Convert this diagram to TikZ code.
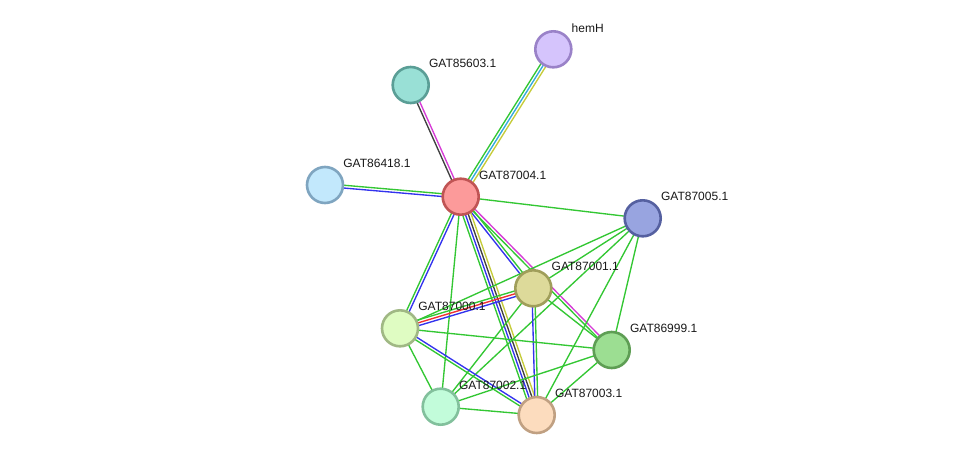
\documentclass[tikz,border=0pt]{standalone}
\usepackage{fontspec}
\setmainfont{Liberation Sans}
\usetikzlibrary{calc,backgrounds}
\definecolor{eg}{HTML}{33C733}
\definecolor{eb}{HTML}{3333EE}
\definecolor{em}{HTML}{D63BD6}
\definecolor{ek}{HTML}{404040}
\definecolor{ey}{HTML}{C6CC3A}
\definecolor{ec}{HTML}{33AADD}
\definecolor{er}{HTML}{F03030}
\newcommand{\medge}[3]{%
  \gdef\mycnt{0}%
  \foreach \ec in {#3}{\xdef\mycnt{\the\numexpr\mycnt+1\relax}}%
  \foreach \ec [count=\ei] in {#3}{%
    \pgfmathsetmacro{\myoff}{(\ei-(\mycnt+1)/2)*2.8}%
    \draw[edge,draw=\ec] ($(#1.center)!\myoff pt!90:(#2.center)$) -- ($(#2.center)!\myoff pt!-90:(#1.center)$);}%
}
\begin{document}
\begin{tikzpicture}[x=1pt,y=-1pt,
  prot/.style={circle, draw, line width=2.6pt, minimum size=36pt, inner sep=0pt},
  edge/.style={line width=1.35pt},
  lab/.style={anchor=west, font=\fontsize{12}{14}\selectfont, inner sep=0pt, text=black!90}]
\useasboundingbox (0,0) rectangle (975,461);
% proteins
\node[prot, fill={rgb,255:red,213;green,196;blue,252}, draw={rgb,255:red,154;green,130;blue,200}] (hemH) at (553.3,49.3) {};
\node[prot, fill={rgb,255:red,153;green,224;blue,214}, draw={rgb,255:red,90;green,158;blue,150}] (n5603) at (410.7,85) {};
\node[prot, fill={rgb,255:red,194;green,232;blue,252}, draw={rgb,255:red,127;green,165;blue,192}] (n6418) at (325,185) {};
\node[prot, fill={rgb,255:red,252;green,154;blue,154}, draw={rgb,255:red,192;green,84;blue,84}] (n4) at (460.7,196.7) {};
\node[prot, fill={rgb,255:red,152;green,164;blue,224}, draw={rgb,255:red,85;green,96;blue,160}] (n5) at (642.7,218.3) {};
\node[prot, fill={rgb,255:red,221;green,218;blue,154}, draw={rgb,255:red,160;green,158;blue,90}] (n1) at (533.3,288.3) {};
\node[prot, fill={rgb,255:red,223;green,252;blue,194}, draw={rgb,255:red,160;green,184;blue,132}] (n0) at (400,328.3) {};
\node[prot, fill={rgb,255:red,156;green,222;blue,146}, draw={rgb,255:red,94;green,158;blue,84}] (n6999) at (611.7,350) {};
\node[prot, fill={rgb,255:red,194;green,252;blue,218}, draw={rgb,255:red,130;green,192;blue,156}] (n2) at (440.7,406.7) {};
\node[prot, fill={rgb,255:red,252;green,220;blue,190}, draw={rgb,255:red,192;green,160;blue,130}] (n3) at (536.7,415) {};
% labels
\node[lab] (lhemH) at (571.5,28.3) {hemH};
\node[lab] (l5603) at (428.9,63.5) {GAT85603.1};
\node[lab] (l6418) at (343.2,163.5) {GAT86418.1};
\node[lab] (l4) at (478.9,175.2) {GAT87004.1};
\node[lab] (l5) at (660.9,196.8) {GAT87005.1};
\node[lab] (l1) at (551.5,266.8) {GAT87001.1};
\node[lab] (l0) at (418.2,306.8) {GAT87000.1};
\node[lab] (l6999) at (629.9,328.5) {GAT86999.1};
\node[lab] (l2) at (458.9,385.2) {GAT87002.1};
\node[lab] (l3) at (554.9,393.5) {GAT87003.1};
\begin{pgfonlayer}{background}
\fill[white] (0,0) rectangle (975,461);
\medge{hemH}{n4}{eg,ec,ey}
\medge{n5603}{n4}{ek,em}
\medge{n4}{n6418}{eg,eb}
\medge{n4}{n5}{eg}
\medge{n4}{n1}{eb,eg}
\medge{n4}{n6999}{eg,em}
\medge{n4}{n3}{eg,eb,ek,ey}
\medge{n4}{n0}{eg,eb}
\medge{n4}{n2}{eg}
\medge{n5}{n1}{eg}
\medge{n5}{n0}{eg}
\medge{n5}{n6999}{eg}
\medge{n5}{n3}{eg}
\medge{n5}{n2}{eg}
\medge{n1}{n0}{eg,er,eb}
\medge{n1}{n6999}{eg}
\medge{n1}{n3}{eb,eg}
\medge{n1}{n2}{eg}
\medge{n0}{n6999}{eg}
\medge{n0}{n3}{eg,eb}
\medge{n0}{n2}{eg}
\medge{n6999}{n3}{eg}
\medge{n6999}{n2}{eg}
\medge{n2}{n3}{eg}
\end{pgfonlayer}
\end{tikzpicture}
\end{document}
